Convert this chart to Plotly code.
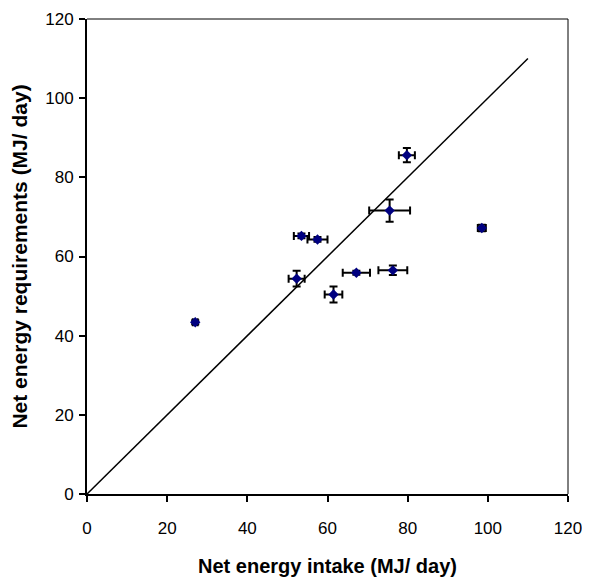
import plotly.graph_objects as go

intake = [27.0, 53.5, 57.5, 52.3, 61.5, 67.2, 76.3, 79.8, 75.5, 98.5]
requirement = [43.4, 65.2, 64.3, 54.4, 50.4, 55.9, 56.5, 85.6, 71.6, 67.2]
intake_err = [0.6, 1.9, 2.5, 2.0, 2.2, 3.4, 3.6, 2.0, 5.1, 1.0]
req_err = [0.5, 0.6, 0.6, 2.0, 2.0, 0.5, 1.2, 1.8, 2.8, 0.8]
line_x = [0, 110]
line_y = [0, 110]
ticks = [0, 20, 40, 60, 80, 100, 120]

fig = go.Figure()
fig.add_trace(go.Scatter(x=line_x, y=line_y, mode="lines",
                         line=dict(color="black", width=1.5), showlegend=False))
fig.add_trace(go.Scatter(
    x=intake, y=requirement, mode="markers",
    marker=dict(symbol="diamond", size=8, color="#000080"),
    error_x=dict(type="data", array=intake_err, color="black", thickness=2, width=4),
    error_y=dict(type="data", array=req_err, color="black", thickness=2, width=4),
    showlegend=False))

axis_common = dict(range=[0, 120], tickvals=ticks, ticks="outside", ticklen=6,
                   tickwidth=1.5, tickcolor="black", showline=True, linecolor="black",
                   linewidth=2, mirror=False, showgrid=False, zeroline=False,
                   automargin=False, ticklabeloverflow="allow",
                   tickfont=dict(family="Liberation Sans, Arial", size=17, color="black"))
fig.update_xaxes(**axis_common, ticklabelstandoff=12,
                 title=dict(text="<b>Net energy intake (MJ/ day)</b>",
                            font=dict(family="Liberation Sans, Arial", size=20, color="black"),
                            standoff=22))
fig.update_yaxes(**axis_common, ticklabelstandoff=2,
                 title=dict(text="<b>Net energy requirements (MJ/ day)</b>",
                            font=dict(family="Liberation Sans, Arial", size=21, color="black"),
                            standoff=12))
# thin frame on top and right
fig.add_shape(type="line", xref="paper", yref="paper", x0=0, x1=1, y0=1, y1=1,
              line=dict(color="black", width=1))
fig.add_shape(type="line", xref="paper", yref="paper", x0=1, x1=1, y0=0, y1=1,
              line=dict(color="black", width=1))
fig.update_layout(width=582, height=572, plot_bgcolor="white", paper_bgcolor="white",
                  margin=dict(l=79, r=22, t=11, b=86))
fig.write_html("out.html")
